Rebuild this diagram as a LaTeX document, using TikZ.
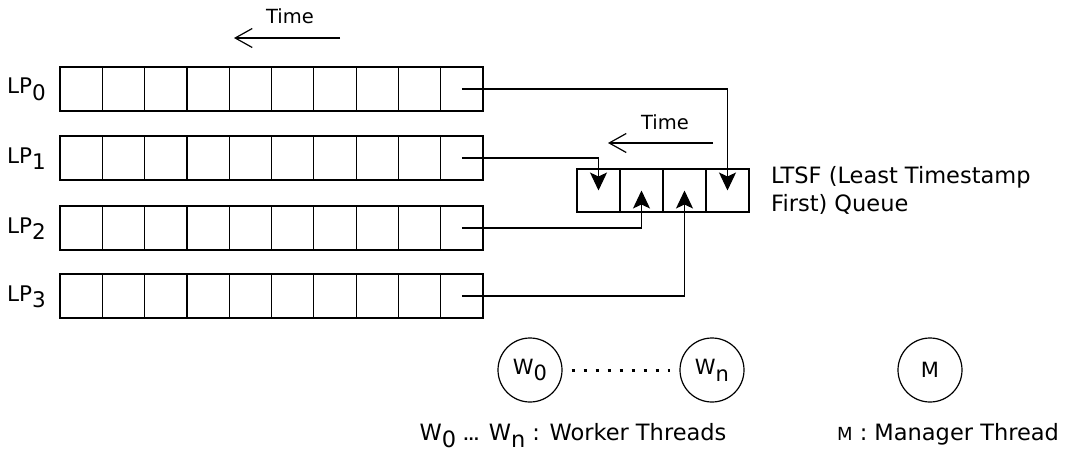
\documentclass[tikz,border=0pt]{standalone}
\usepackage{fontspec}
\setmainfont{DejaVu Sans}
\usetikzlibrary{arrows.meta}
\newcommand{\lo}[1]{\raisebox{-0.32em}{#1}}
\begin{document}
\begin{tikzpicture}[x=1pt,y=-1pt,
  cell/.style={minimum width=42.3pt, minimum height=44pt, inner sep=0pt, outer sep=0pt},
  qcell/.style={cell, minimum width=43pt, minimum height=43pt},
  grid/.style={line width=1.2pt},
  conn/.style={line width=1.2pt, -{Stealth[length=18pt,width=17pt,inset=4pt]}},
  timearrow/.style={line width=1.2pt, -{Straight Barb[length=17pt,width=19pt]}},
  lplbl/.style={font=\fontsize{21.5}{24}\selectfont, inner sep=0pt},
  timelbl/.style={font=\fontsize{19.5}{24}\selectfont, inner sep=0pt},
  biglbl/.style={font=\fontsize{22.5}{28}\selectfont, inner sep=0pt},
  circ/.style={draw, circle, line width=1.2pt, minimum size=64pt, inner sep=0pt, font=\fontsize{21}{24}\selectfont},
  dotline/.style={line width=3pt, dash pattern=on 3pt off 9pt, shorten <=9pt, shorten >=9pt}
]
\useasboundingbox (0,0) rectangle (1066,452);

% LP rows
\foreach \r/\y in {0/89,1/158,2/228,3/296}{
  \foreach \c in {0,...,9}{
    \node[cell] (r\r-\c) at ({81.15+42.3*\c},\y) {};
  }
  \draw[grid] (r\r-0.north west) rectangle (r\r-9.south east);
  \foreach \c in {1,...,9}{
    \draw[grid] (r\r-\c.north west) -- (r\r-\c.south west);
  }
  \node[lplbl, anchor=base west] (lp\r) at (7,{\y+5}) {LP\lo{\r}};
}

% top time arrow
\coordinate (t1s) at (340,38);
\coordinate (t1e) at (234,38);
\draw[timearrow] (t1s) -- (t1e);
\node[timelbl] (time1) at (290,16) {Time};

% LTSF queue
\foreach \c in {1,...,4}{
  \node[qcell] (q\c) at ({577+43*\c-21.5},190.5) {};
}
\draw[grid] (q1.north west) rectangle (q4.south east);
\foreach \c in {2,...,4}{
  \draw[grid] (q\c.north west) -- (q\c.south west);
}
\node[biglbl, anchor=north west, align=left] (ltsf) at (771,166) {LTSF (Least Timestamp\\First) Queue};

% queue time arrow
\coordinate (t2s) at (713,143);
\coordinate (t2e) at (608,143);
\draw[timearrow] (t2s) -- (t2e);
\node[timelbl] (time2) at (665,122) {Time};

% connectors
\draw[conn] (r0-9.center) -| (q4.center);
\draw[conn] (r1-9.center) -| (q1.center);
\draw[conn] (r2-9.center) -| (q2.center);
\draw[conn] (r3-9.center) -| (q3.center);

% threads
\node[circ] (w0) at (530,370) {W\lo{0}};
\node[circ] (wn) at (712,370) {W\lo{n}};
\node[circ] (m) at (930,370) {M};
\draw[dotline] (w0) -- (wn);

\node[biglbl, anchor=base] (wlab) at (573,440) {W\lo{0} {\bfseries\fontsize{14}{14}\selectfont ...} W\lo{n} : Worker Threads};
\node[biglbl, anchor=base] (mlab) at (948,440) {{\fontsize{18}{20}\selectfont M} : Manager Thread};
\end{tikzpicture}
\end{document}
